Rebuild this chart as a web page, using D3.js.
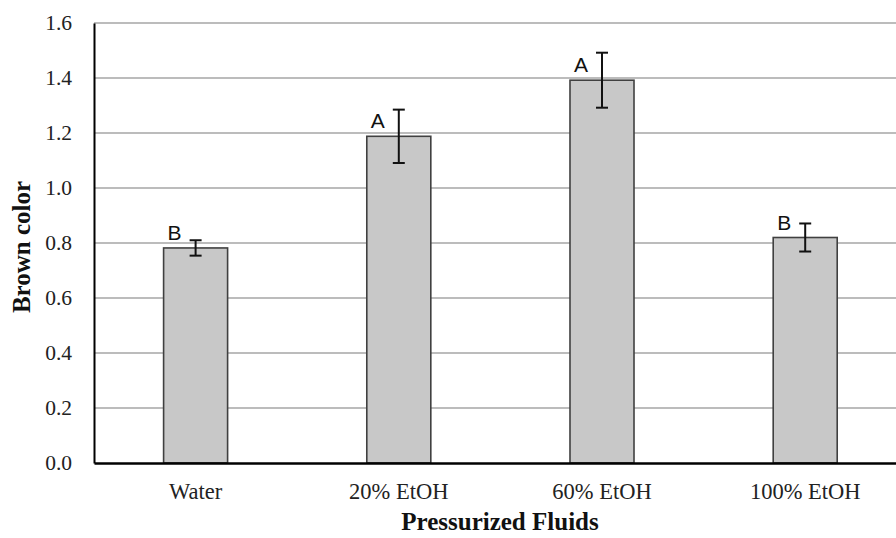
<!DOCTYPE html>
<html>
<head>
<meta charset="utf-8">
<script src="https://cdn.jsdelivr.net/npm/d3@7"></script>
<style>
  html, body { margin: 0; padding: 0; background: #fff; }
  svg { display: block; }
</style>
</head>
<body>
<svg id="chart" width="896" height="538"></svg>
<script>
// Brown color by pressurized fluid, with standard deviation and significance letters
const categories = ["Water", "20% EtOH", "60% EtOH", "100% EtOH"];
const values = [0.782, 1.188, 1.392, 0.820];
const errors = [0.028, 0.097, 0.100, 0.051];
const groups = ["B", "A", "A", "B"];
const yTicks = [0.0, 0.2, 0.4, 0.6, 0.8, 1.0, 1.2, 1.4, 1.6];

const svg = d3.select("#chart");
const plotLeft = 94, plotTop = 23, plotBottom = 463, step = 203.2;

const x = d3.scaleBand()
  .domain(categories)
  .range([plotLeft, plotLeft + step * categories.length])
  .paddingInner(0.685)
  .paddingOuter(0.3425);

const y = d3.scaleLinear().domain([0, 1.6]).range([plotBottom, plotTop]);

// horizontal gridlines
svg.append("g")
  .selectAll("line")
  .data(yTicks.filter(d => d > 0))
  .join("line")
  .attr("x1", plotLeft).attr("x2", 896)
  .attr("y1", d => y(d)).attr("y2", d => y(d))
  .attr("stroke", "#a6a6a6")
  .attr("stroke-width", 1.5);

// bars
svg.append("g")
  .selectAll("rect")
  .data(categories)
  .join("rect")
  .attr("x", d => x(d))
  .attr("y", (d, i) => y(values[i]))
  .attr("width", x.bandwidth())
  .attr("height", (d, i) => y(0) - y(values[i]))
  .attr("fill", "#c8c8c8")
  .attr("stroke", "#404040")
  .attr("stroke-width", 1.6);

// error bars
const eb = svg.append("g").attr("stroke", "#111").attr("stroke-width", 2);
categories.forEach((c, i) => {
  const cx = x(c) + x.bandwidth() / 2;
  const y1 = y(values[i] + errors[i]);
  const y2 = y(values[i] - errors[i]);
  eb.append("line").attr("x1", cx).attr("x2", cx).attr("y1", y1).attr("y2", y2);
  eb.append("line").attr("x1", cx - 6).attr("x2", cx + 6).attr("y1", y1).attr("y2", y1);
  eb.append("line").attr("x1", cx - 6).attr("x2", cx + 6).attr("y1", y2).attr("y2", y2);
});

// significance letters
svg.append("g")
  .selectAll("text")
  .data(categories)
  .join("text")
  .attr("x", d => x(d) + x.bandwidth() / 2 - 21)
  .attr("y", (d, i) => y(values[i]) - 8)
  .attr("text-anchor", "middle")
  .attr("font-family", "'Liberation Sans', Arial, sans-serif")
  .attr("font-size", 21)
  .attr("fill", "#111")
  .text((d, i) => groups[i]);

// y axis
const yAxis = d3.axisLeft(y).tickValues(yTicks).tickFormat(d3.format(".1f")).tickSize(0).tickPadding(22);
const gy = svg.append("g").attr("transform", `translate(${plotLeft},0)`).call(yAxis);
gy.select(".domain").attr("stroke", "#000").attr("stroke-width", 2);
gy.selectAll("text")
  .attr("font-family", "'Liberation Serif', 'Times New Roman', serif")
  .attr("font-size", 21.5)
  .attr("fill", "#222");

// x axis
const xAxis = d3.axisBottom(x).tickSize(0).tickPadding(20);
const gx = svg.append("g").attr("transform", `translate(0,${plotBottom})`).call(xAxis);
gx.select(".domain").attr("stroke", "#000").attr("stroke-width", 2.5);
gx.selectAll("text")
  .attr("font-family", "'Liberation Serif', 'Times New Roman', serif")
  .attr("font-size", 22.5)
  .attr("fill", "#222");

// axis titles
svg.append("text")
  .attr("x", 500).attr("y", 530)
  .attr("text-anchor", "middle")
  .attr("font-family", "'Liberation Serif', 'Times New Roman', serif")
  .attr("font-weight", "bold")
  .attr("font-size", 25)
  .attr("fill", "#111")
  .text("Pressurized Fluids");

svg.append("text")
  .attr("transform", "translate(30,247) rotate(-90)")
  .attr("text-anchor", "middle")
  .attr("font-family", "'Liberation Serif', 'Times New Roman', serif")
  .attr("font-weight", "bold")
  .attr("font-size", 25)
  .attr("fill", "#111")
  .text("Brown color");
</script>
</body>
</html>
